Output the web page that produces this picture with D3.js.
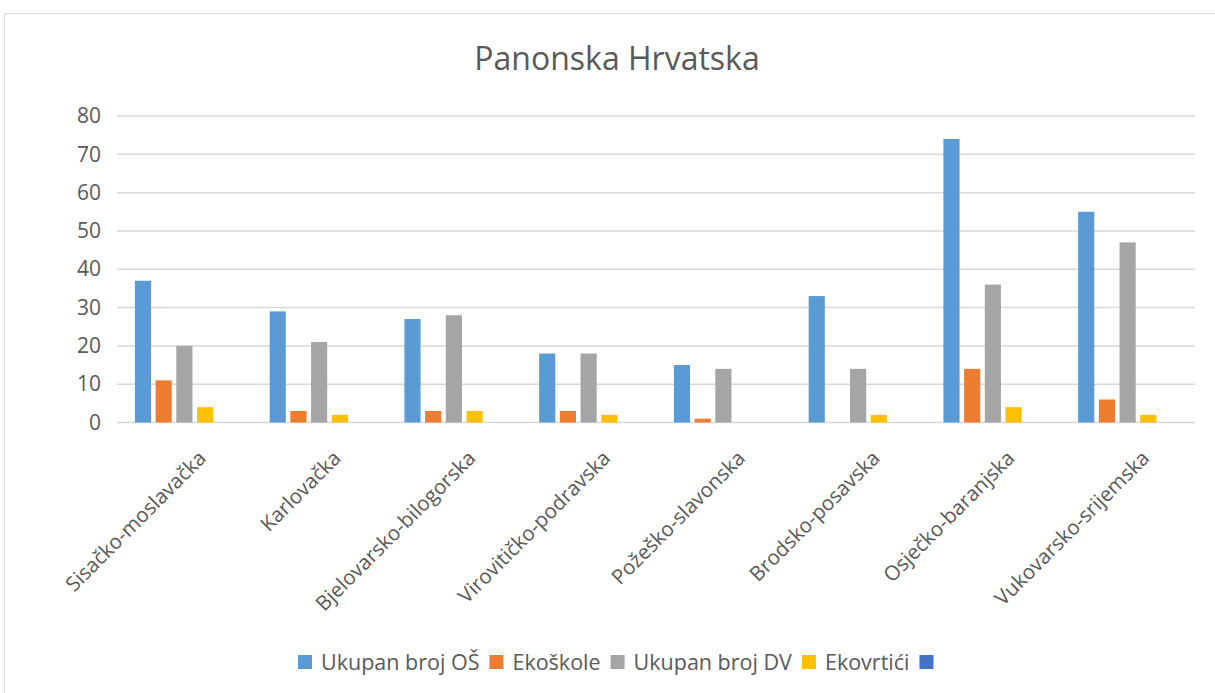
<!DOCTYPE html>
<html>
<head>
<meta charset="utf-8">
<script src="https://cdn.jsdelivr.net/npm/d3@7"></script>
<style>
  body { margin: 0; background: #fff; }
  text { font-family: "Open Sans", "Noto Sans", sans-serif; fill: #595959; }
</style>
</head>
<body>
<div id="visual"></div>
<script>
var w = 1215, h = 693;

// data
var counties = ["Sisačko-moslavačka", "Karlovačka", "Bjelovarsko-bilogorska", "Virovitičko-podravska",
                "Požeško-slavonska", "Brodsko-posavska", "Osječko-baranjska", "Vukovarsko-srijemska"];
var seriesNames = ["Ukupan broj OŠ", "Ekoškole", "Ukupan broj DV", "Ekovrtići", ""];
var ukupanOS = [37, 29, 27, 18, 15, 33, 74, 55];
var ekoskole = [11, 3, 3, 3, 1, 0, 14, 6];
var ukupanDV = [20, 21, 28, 18, 14, 14, 36, 47];
var ekovrtici = [4, 2, 3, 2, 0, 2, 4, 2];
var prazno = [null, null, null, null, null, null, null, null];
var yTicks = [0, 10, 20, 30, 40, 50, 60, 70, 80];
var colors = ["#5B9BD5", "#ED7D31", "#A5A5A5", "#FFC000", "#4472C4"];

var allSeries = [ukupanOS, ekoskole, ukupanDV, ekovrtici, prazno];

var margin = {left: 117, right: 20, top: 116, bottom: 270};

var svg = d3.select("#visual").append("svg")
  .attr("width", w)
  .attr("height", h);

// chart frame
svg.append("rect")
  .attr("x", 4.5).attr("y", 13.5)
  .attr("width", w + 10).attr("height", h + 10)
  .attr("fill", "none")
  .attr("stroke", "#d9d9d9");

svg.append("text")
  .attr("x", 617).attr("y", 70)
  .attr("text-anchor", "middle")
  .style("font-size", "32px")
  .text("Panonska Hrvatska");

var x0 = d3.scaleBand().domain(counties)
  .range([margin.left, w - margin.right])
  .paddingInner(0.232).paddingOuter(0.116);

var x1 = d3.scaleBand().domain(d3.range(seriesNames.length))
  .range([0, x0.bandwidth()])
  .paddingInner(0.22).paddingOuter(0.11);

var y = d3.scaleLinear().domain([0, 80]).range([h - margin.bottom - 0.5, margin.top]);

// gridlines
svg.append("g").selectAll("line")
  .data(yTicks)
  .enter().append("line")
  .attr("x1", margin.left).attr("x2", w - margin.right)
  .attr("y1", function(d){ return y(d); })
  .attr("y2", function(d){ return y(d); })
  .attr("stroke", "#d9d9d9")
  .attr("stroke-width", 1.5);

// y axis labels
var yAxis = d3.axisLeft(y).tickValues(yTicks).tickSize(0).tickPadding(14);
var gy = svg.append("g").attr("transform", "translate(" + (margin.left - 2) + ",0)").call(yAxis);
gy.select(".domain").remove();
gy.selectAll("text").style("font-size", "21px").attr("fill", "#595959");

// bars
var groups = svg.append("g").selectAll("g")
  .data(counties)
  .enter().append("g")
  .attr("transform", function(d){ return "translate(" + x0(d) + ",0)"; });

groups.selectAll("rect")
  .data(function(d, i){
    return allSeries.map(function(s, k){ return {k: k, v: s[i]}; })
      .filter(function(e){ return e.v != null && e.v > 0; });
  })
  .enter().append("rect")
  .attr("x", function(d){ return x1(d.k); })
  .attr("width", x1.bandwidth())
  .attr("y", function(d){ return y(d.v); })
  .attr("height", function(d){ return y(0) - y(d.v); })
  .attr("fill", function(d){ return colors[d.k]; });

// x axis labels
var xAxis = d3.axisBottom(x0).tickSize(0).tickPadding(0);
var gx = svg.append("g").attr("transform", "translate(0," + y(0) + ")").call(xAxis);
gx.select(".domain").remove();
gx.selectAll("text")
  .style("font-size", "20.5px")
  .attr("fill", "#595959")
  .attr("text-anchor", "end")
  .attr("dy", "0")
  .attr("transform", "translate(23,37) rotate(-45)");

// legend
var legend = svg.append("g");
var lx = 0;
seriesNames.forEach(function(name, k){
  var item = legend.append("g").attr("transform", "translate(" + lx + ",0)");
  item.append("rect").attr("x", 0).attr("y", -7).attr("width", 14).attr("height", 14)
    .attr("fill", colors[k]);
  lx += 14;
  if (name) {
    var t = item.append("text").attr("x", 23).attr("y", 7.5)
      .style("font-size", "21.5px").text(name);
    lx += 9 + t.node().getComputedTextLength() + 10;
  }
});
legend.attr("transform", "translate(" + Math.round(615.5 - lx / 2) + ",662)");
</script>
</body>
</html>
